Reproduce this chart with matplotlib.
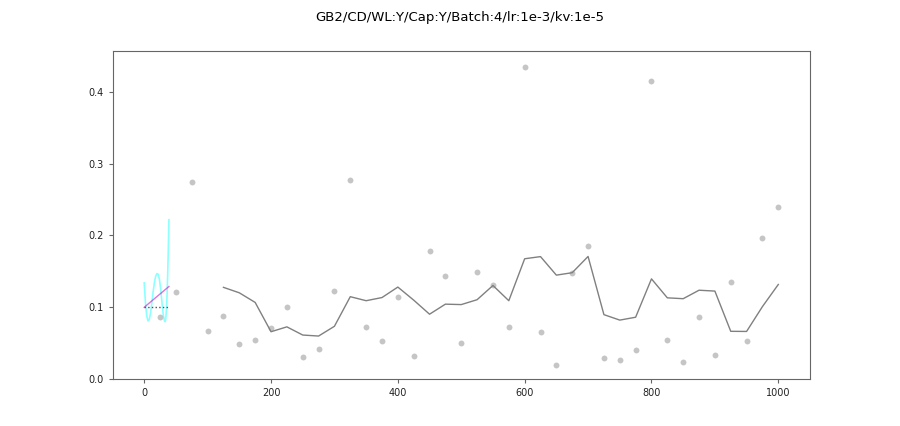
import numpy as np
import pandas as pd
import matplotlib
matplotlib.use('Agg')
import matplotlib.pyplot as plt

TITLE = 'GB2/CD/WL:Y/Cap:Y/Batch:4/lr:1e-3/kv:1e-5'

# Streupunkte (Schritt 25)
steps = list(range(25, 1001, 25))
loss = [0.087, 0.122, 0.275, 0.067, 0.088, 0.049, 0.055, 0.071, 0.101, 0.031,
        0.042, 0.123, 0.277, 0.073, 0.053, 0.115, 0.032, 0.179, 0.143, 0.050,
        0.149, 0.131, 0.073, 0.435, 0.065, 0.020, 0.148, 0.186, 0.030, 0.027,
        0.040, 0.415, 0.054, 0.024, 0.086, 0.034, 0.135, 0.053, 0.197, 0.240]

# Kurve am Anfang
fit_x = [0, 2, 4, 6, 8, 10, 12, 14, 16, 18, 20, 22, 24, 26, 28, 30,
         32, 33, 34, 35, 36, 37, 38, 39]
fit_y = [0.134, 0.106, 0.088, 0.081, 0.083, 0.092, 0.106, 0.121, 0.134, 0.143,
         0.147, 0.146, 0.139, 0.125, 0.107, 0.090, 0.081, 0.080, 0.084, 0.096,
         0.116, 0.145, 0.180, 0.222]

trend_x = [0, 39]
trend_y = [0.100, 0.129]
base_y = 0.1

fig, ax = plt.subplots(figsize=(9, 4.26), dpi=100)

ax.scatter(steps, loss, s=18, color='gray', alpha=0.45, linewidths=0)
rolling = pd.Series(loss).rolling(5).mean()
ax.plot(steps, rolling, color='gray', lw=1)

ax.plot(fit_x, fit_y, color='cyan', lw=1.2, alpha=0.45)
ax.plot(trend_x, trend_y, color='m', lw=1, alpha=0.55)
ax.plot(trend_x, [base_y, base_y], ':', color='#445566', lw=1)

ax.set_xlim(-50, 1050)
ax.set_ylim(0, 0.4567)
ax.set_yticks([0.0, 0.1, 0.2, 0.3, 0.4])
ax.set_xticks([0, 200, 400, 600, 800, 1000])
ax.tick_params(labelsize=7, colors='#222222', length=3)
ax.tick_params(axis='both', color='#666666')
for sp in ax.spines.values():
    sp.set_color('#666666')

fig.suptitle(TITLE, fontsize=9.5, x=0.511, y=0.975)

fig.savefig('out.png', dpi=100)
